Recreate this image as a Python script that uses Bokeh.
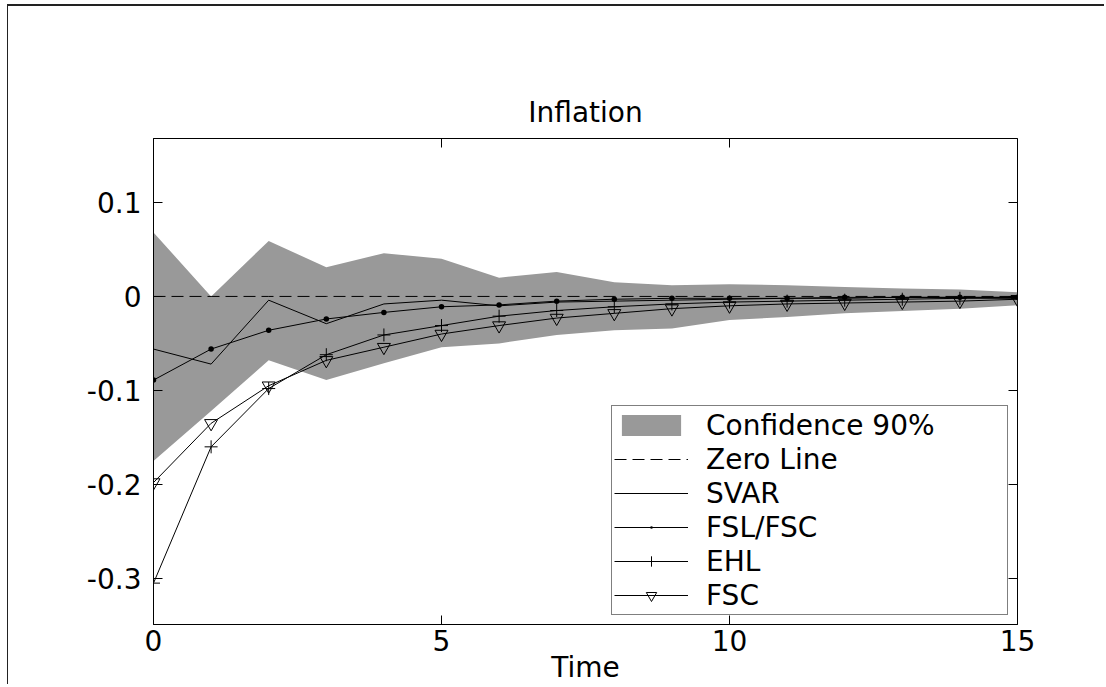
from bokeh.plotting import figure
from bokeh.models import (Range1d, LinearAxis, FixedTicker, CustomJSTickFormatter,
                          Legend, LegendItem)
from bokeh.embed import file_html
from bokeh.resources import INLINE

# ---------------- data ----------------
time = list(range(16))
conf_upper = [0.068, 0.000, 0.059, 0.031, 0.046, 0.040, 0.020, 0.026,
              0.015, 0.012, 0.013, 0.012, 0.010, 0.0085, 0.0075, 0.0045]
conf_lower = [-0.175, -0.122, -0.068, -0.089, -0.071, -0.054, -0.050, -0.041,
              -0.036, -0.034, -0.025, -0.022, -0.018, -0.0155, -0.013, -0.0095]
zero_line = [0.0] * 16
svar = [-0.056, -0.072, -0.004, -0.029, -0.008, -0.004, -0.010, -0.006,
        -0.005, -0.004, -0.003, -0.002, -0.002, -0.001, -0.001, -0.001]
fsl_fsc = [-0.089, -0.056, -0.036, -0.024, -0.017, -0.011, -0.009, -0.005,
           -0.003, -0.002, -0.002, -0.002, -0.001, -0.001, -0.001, -0.001]
ehl = [-0.305, -0.160, -0.098, -0.062, -0.041, -0.031, -0.021, -0.015,
       -0.011, -0.008, -0.006, -0.005, -0.004, -0.003, -0.002, -0.002]
fsc = [-0.198, -0.135, -0.095, -0.068, -0.054, -0.040, -0.031, -0.023,
       -0.018, -0.013, -0.010, -0.008, -0.007, -0.006, -0.005, -0.003]

x_ticks = [0, 5, 10, 15]
y_ticks = [-0.3, -0.2, -0.1, 0.0, 0.1]

FONT = "DejaVu Sans"
FS = "28px"

p = figure(width=1097, height=680, output_backend="svg", toolbar_location=None,
           x_range=Range1d(0, 15), y_range=Range1d(-0.349, 0.168),
           min_border_left=145, min_border_right=88,
           min_border_top=132, min_border_bottom=62,
           title="Inflation")
p.styles = {"margin-left": "7px", "margin-top": "4px",
            "border-top": "2px solid #222", "border-left": "1px solid #222"}

p.title.text_font = FONT
p.title.text_font_size = FS
p.title.text_font_style = "normal"
p.title.text_color = "black"
p.title.align = "center"
p.title.standoff = 20

p.xgrid.visible = False
p.ygrid.visible = False
p.outline_line_color = "black"
p.outline_line_width = 1
p.background_fill_color = "white"
p.border_fill_color = "white"

# series
r_band = p.varea(x=time, y1=conf_lower, y2=conf_upper, fill_color="#999999")
r_zero = p.line(time, zero_line, line_color="black", line_width=1, line_dash="12 6")
r_svar = p.line(time, svar, line_color="black", line_width=1)
r_fsl_l = p.line(time, fsl_fsc, line_color="black", line_width=1)
r_fsl_m = p.scatter(time, fsl_fsc, marker="dot", size=22,
                    fill_color="black", line_color="black")
r_ehl_l = p.line(time, ehl, line_color="black", line_width=1)
r_ehl_m = p.scatter(time, ehl, marker="cross", size=13, line_color="black")
r_fsc_l = p.line(time, fsc, line_color="black", line_width=1)
r_fsc_m = p.scatter(time, fsc, marker="inverted_triangle", size=13,
                    fill_color=None, line_color="black")

# axes
for ax in (p.xaxis[0], p.yaxis[0]):
    ax.major_label_text_font = FONT
    ax.major_label_text_font_size = FS
    ax.major_label_text_color = "black"
    ax.axis_line_color = "black"
    ax.major_tick_line_color = "black"
    ax.major_tick_in = 9
    ax.major_tick_out = 0
    ax.minor_tick_line_color = None

p.xaxis[0].ticker = FixedTicker(ticks=x_ticks)
p.xaxis[0].major_label_standoff = 5
p.xaxis[0].axis_label = "Time"
p.xaxis[0].axis_label_text_font = FONT
p.xaxis[0].axis_label_text_font_size = FS
p.xaxis[0].axis_label_text_font_style = "normal"
p.xaxis[0].axis_label_text_color = "black"
p.xaxis[0].axis_label_standoff = -3

p.yaxis[0].ticker = FixedTicker(ticks=y_ticks)
p.yaxis[0].formatter = CustomJSTickFormatter(
    code="return Math.abs(tick) < 1e-9 ? '0' : tick.toFixed(1);")
p.yaxis[0].major_label_standoff = 12

empty = "return '';"
top_ax = LinearAxis(ticker=FixedTicker(ticks=x_ticks),
                    formatter=CustomJSTickFormatter(code=empty),
                    major_tick_in=9, major_tick_out=0,
                    minor_tick_line_color=None, axis_line_color=None,
                    major_label_text_font_size="0px", major_label_standoff=0)
right_ax = LinearAxis(ticker=FixedTicker(ticks=y_ticks),
                      formatter=CustomJSTickFormatter(code=empty),
                      major_tick_in=9, major_tick_out=0,
                      minor_tick_line_color=None, axis_line_color=None,
                      major_label_text_font_size="0px", major_label_standoff=0)
p.add_layout(top_ax, "above")
p.add_layout(right_ax, "right")

legend = Legend(items=[
    LegendItem(label="Confidence 90%", renderers=[r_band]),
    LegendItem(label="Zero Line", renderers=[r_zero]),
    LegendItem(label="SVAR", renderers=[r_svar]),
    LegendItem(label="FSL/FSC", renderers=[r_fsl_l, r_fsl_m]),
    LegendItem(label="EHL", renderers=[r_ehl_l, r_ehl_m]),
    LegendItem(label="FSC", renderers=[r_fsc_l, r_fsc_m]),
], location="bottom_right")
legend.label_text_font = FONT
legend.label_text_font_size = FS
legend.label_text_color = "black"
legend.glyph_width = 74
legend.glyph_height = 26
legend.label_standoff = 18
legend.label_width = 299
legend.label_height = 34
legend.padding = 2
legend.spacing = 0
legend.margin = 9
legend.border_line_color = "black"
legend.border_line_width = 1
legend.background_fill_color = "white"
legend.background_fill_alpha = 1.0
p.add_layout(legend)

open("out.html", "w").write(file_html(p, INLINE))
